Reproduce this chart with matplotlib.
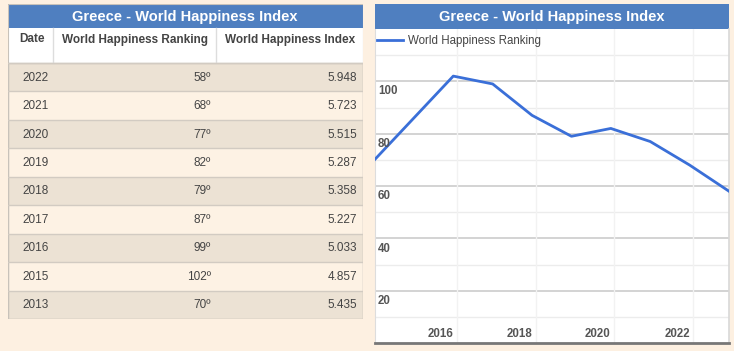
import matplotlib
matplotlib.use("Agg")
import matplotlib.pyplot as plt
from matplotlib.patches import Rectangle
import matplotlib.transforms as mtransforms

plt.rcParams['font.family'] = ['Liberation Sans', 'DejaVu Sans']

title = "Greece - World Happiness Index"
col_headers = ["Date", "World Happiness Ranking", "World Happiness Index"]
dates = ["2022", "2021", "2020", "2019", "2018", "2017", "2016", "2015", "2013"]
rankings = [58, 68, 77, 82, 79, 87, 99, 102, 70]
indices = ["5.948", "5.723", "5.515", "5.287", "5.358", "5.227", "5.033", "4.857", "5.435"]

years_line = [2013, 2015, 2016, 2017, 2018, 2019, 2020, 2021, 2022]
rank_line = [70, 102, 99, 87, 79, 82, 77, 68, 58]
series_name = "World Happiness Ranking"
xtick_labels = ["2016", "2018", "2020", "2022"]

W, H = 734, 351
BG = "#fdf0e1"
BLUE = "#4f7fc0"
TXT = "#444444"

fig = plt.figure(figsize=(W / 100, H / 100), dpi=100, facecolor=BG)

def px_axes(x0, y0, x1, y1):
    return fig.add_axes([x0 / W, 1 - y1 / H, (x1 - x0) / W, (y1 - y0) / H])

# ---------------- Table ----------------
tx0, tx1 = 7.5, 363
ty0, thead, tcol, ty1 = 4, 28, 63, 319
tab = px_axes(tx0, ty0, tx1, ty1)
tab.set_xlim(tx0, tx1)
tab.set_ylim(ty1, ty0)
tab.axis("off")

tab.add_patch(Rectangle((tx0, ty0), tx1 - tx0, thead - ty0, color=BLUE, lw=0))
tab.text((tx0 + tx1) / 2, (ty0 + thead) / 2 + 0.5, title, color="white",
         fontsize=10.5, fontweight="bold", ha="center", va="center")
tab.add_patch(Rectangle((tx0, thead), tx1 - tx0, tcol - thead, color="white", lw=0))
col_edges = [tx0, 53, 216, tx1]
for xe in col_edges[1:-1]:
    tab.plot([xe, xe], [thead, tcol], color="#dddddd", lw=1)
tab.text(19, 39.5, col_headers[0], color=TXT, fontsize=8.5, fontweight="bold",
         ha="left", va="center")
tab.text(208, 39.5, col_headers[1], color=TXT, fontsize=8.5, fontweight="bold",
         ha="right", va="center")
tab.text(355, 39.5, col_headers[2], color=TXT, fontsize=8.5, fontweight="bold",
         ha="right", va="center")

n = len(dates)
rh = (ty1 - tcol) / n
for i in range(n):
    y = tcol + i * rh
    fc = "#ece2d4" if i % 2 == 0 else "#fdf2e4"
    tab.add_patch(Rectangle((tx0, y), tx1 - tx0, rh, facecolor=fc, lw=0))
    tab.plot([tx0, tx1], [y, y], color="#d2cbc2", lw=1)
    yc = y + rh / 2 + 0.5
    tab.text(22, yc, dates[i], color=TXT, fontsize=8.5, ha="left", va="center")
    tab.text(211, yc, f"{rankings[i]}º", color=TXT, fontsize=8.5, ha="right", va="center")
    tab.text(357, yc, indices[i], color=TXT, fontsize=8.5, ha="right", va="center")
tab.add_patch(Rectangle((tx0, tcol), tx1 - tx0, ty1 - tcol, fill=False,
                        edgecolor="#c8c2ba", lw=1))
tab.add_patch(Rectangle((tx0, ty0), tx1 - tx0, ty1 - ty0, fill=False,
                        edgecolor="#c8c2ba", lw=0.8))

# ---------------- Chart header ----------------
cx0, cx1 = 374.5, 729
hd = px_axes(cx0, 4, cx1, 29)
hd.set_xlim(0, 1); hd.set_ylim(0, 1); hd.axis("off")
hd.add_patch(Rectangle((0, 0), 1, 1, color=BLUE, lw=0))
hd.text(0.5, 0.5, title, color="white", fontsize=10.5, fontweight="bold",
        ha="center", va="center")

# ---------------- Line chart ----------------
ax = px_axes(cx0, 29, cx1, 343)
ax.set_facecolor("white")
ax.set_xlim(2013, 2022)
ax.set_ylim(0, 120)

for v in range(10, 120, 20):
    ax.axhline(v, color="#ececec", lw=1, zorder=1)
for v in range(20, 120, 20):
    ax.axhline(v, color="#cccccc", lw=1.2, zorder=1)
for xv in [2015.09, 2017.1, 2019.07, 2021.09]:
    ax.axvline(xv, color="#f2f2f2", lw=1, zorder=1)

line, = ax.plot(years_line, rank_line, color="#3a6fd8", lw=2, zorder=3,
                solid_joinstyle="round", clip_on=True, label=series_name)

for v in range(20, 120, 20):
    ax.annotate(str(v), xy=(0, v), xycoords=("axes fraction", "data"),
                xytext=(2.5, -3), textcoords="offset points",
                ha="left", va="top", fontsize=8.3, color="#555555", fontweight="bold")

trans = mtransforms.blended_transform_factory(ax.transData, ax.transAxes)
for xv, lab in zip([2014.68, 2016.67, 2018.66, 2020.68], xtick_labels):
    ax.text(xv, 0.028, lab, transform=trans, ha="center", va="center",
            fontsize=8.3, color="#555555", fontweight="bold")

ax.set_xticks([]); ax.set_yticks([])
for s in ["top", "right"]:
    ax.spines[s].set_visible(False)
ax.spines["left"].set_color("#dddddd")
ax.spines["bottom"].set_color("#777777")
ax.spines["bottom"].set_linewidth(2)
ax.plot([1, 1], [0, 1], transform=ax.transAxes, color="#d8d8d8", lw=1.2, clip_on=False)

ax.legend(handles=[line], loc="upper left", frameon=False, fontsize=8.3,
          handlelength=2.2, handletextpad=0.5, borderaxespad=0.0,
          bbox_to_anchor=(-0.005, 0.995), labelcolor="#444444")

fig.savefig("out.png", dpi=100, facecolor=BG)
